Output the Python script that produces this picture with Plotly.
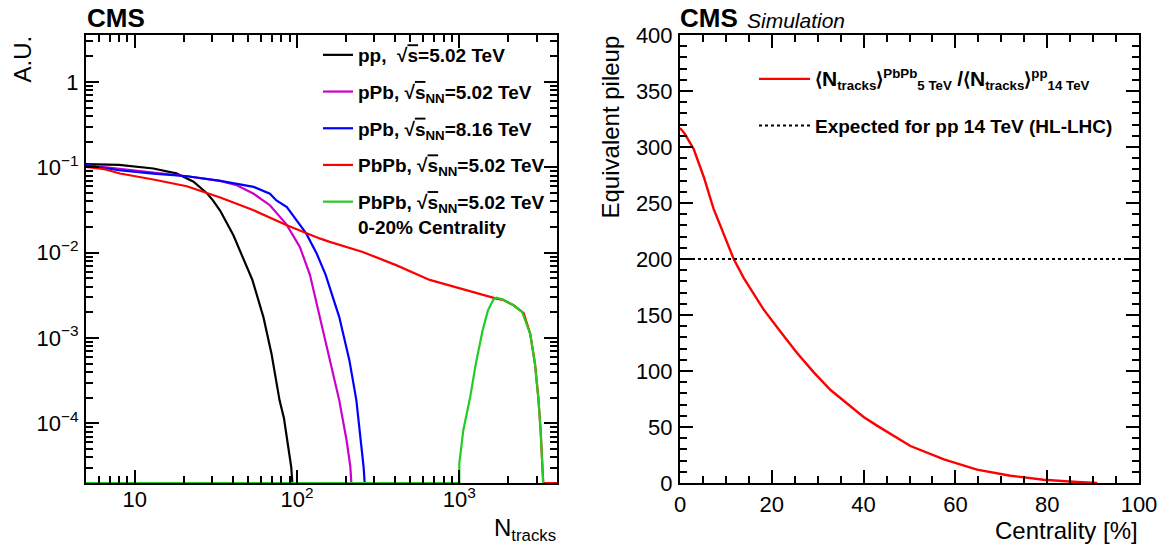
import plotly.graph_objects as go

# ---------------- data ----------------
Y_FLOOR = 2e-5  # axis floor; empty histogram bins are drawn on it

PP502_X = [5, 8, 13, 18, 23, 28, 30.3, 33.6, 40.5, 47, 51, 53, 62, 69.5, 78, 83, 87, 92, 93.5]
PP502_Y = [0.109, 0.107, 0.097, 0.085, 0.068, 0.049, 0.041, 0.031, 0.016, 0.0081, 0.0057, 0.0048,
           0.00176, 6.6e-4, 1.86e-4, 1.15e-4, 6.3e-5, 3.1e-5, 2e-5]

PPB502_X = [5, 8, 13, 21, 33.6, 42.5, 54, 61.6, 68, 86, 104, 120, 138, 158, 182, 202, 213, 216]
PPB502_Y = [0.106, 0.097, 0.087, 0.0787, 0.0694, 0.0617, 0.049, 0.041, 0.036, 0.0215, 0.0117,
            0.0055, 0.00176, 6.0e-4, 1.86e-4, 6.3e-5, 3.1e-5, 2e-5]

PPB816_X = [5, 8, 13, 21, 33.6, 54, 68, 74.6, 86.5, 109, 114, 132, 150, 182, 210, 232, 248, 257, 261]
PPB816_Y = [0.106, 0.0925, 0.0846, 0.0787, 0.0694, 0.059, 0.049, 0.041, 0.0343, 0.0183, 0.0167,
            0.0098, 0.0055, 0.00176, 5.5e-4, 1.86e-4, 6.3e-5, 3.1e-5, 2e-5]

PBPB_X = [5, 6.5, 8.1, 10.3, 13, 20.9, 33.6, 54, 86.5, 139, 159, 254, 411, 657, 1058, 1392, 1622,
          1694, 1860, 2160, 2493, 2735, 2926, 3068, 3170, 3260, 3290, 4000]
PBPB_Y = [0.101, 0.095, 0.0846, 0.0787, 0.072, 0.060, 0.0443, 0.0314, 0.021, 0.0146, 0.0134, 0.0102,
          0.0071, 0.0048, 0.0037, 0.0032, 0.00298, 0.0029, 0.0028, 0.00242, 0.00196, 0.00112,
          5.0e-4, 2.0e-4, 8.3e-5, 3.4e-5, Y_FLOOR, Y_FLOOR]

PBPB020_X = [5, 1000, 1000, 1058, 1165, 1264, 1392, 1502, 1622, 1694, 1860, 2160, 2437, 2735, 2926,
             3068, 3170, 3260, 3290]
PBPB020_Y = [Y_FLOOR, Y_FLOOR, 3.4e-5, 8.3e-5, 2.0e-4, 5.0e-4, 1.23e-3, 2.11e-3, 2.82e-3, 2.97e-3,
             2.82e-3, 2.42e-3, 2.02e-3, 1.12e-3, 5.0e-4, 2.0e-4, 8.3e-5, 3.4e-5, Y_FLOOR]

CENTRALITY = [0, 1, 3, 5.2, 7.3, 9.5, 11.7, 13.9, 18.2, 21.9, 25.5, 29.1, 32.8, 36.4, 40, 43,
              50.2, 57.5, 60, 64.7, 72, 79.2, 86.5, 90.9]
PILEUP = [317, 312, 298, 273, 245, 223, 200, 183, 155, 135, 116, 99, 83, 71, 59, 51,
          33, 21, 18, 12, 6.5, 2.9, 0.9, 0]

HLLHC_X = [0, 100]
HLLHC_PU = [200, 200]

LX_TICKS = [10, 100, 1000]
LX_TEXT = ["10", "10<sup>2</sup>", "10<sup>3</sup>"]
LY_TICKS = [1e-4, 1e-3, 1e-2, 1e-1, 1]
LY_TEXT = ["10<sup>\u22124</sup>", "10<sup>\u22123</sup>", "10<sup>\u22122</sup>", "10<sup>\u22121</sup>", "1"]
LX_MINOR = [6, 7, 8, 9, 20, 30, 40, 50, 60, 70, 80, 90, 200, 300, 400, 500, 600, 700, 800, 900, 2000, 3000]
LY_MINOR = [m * 10.0 ** e for e in range(-5, 1) for m in range(2, 10)]

OV = '<span style="text-decoration:overline">s</span>'
SQ = '\u221a' + OV + '<sub>NN</sub>'
NAMES = [
    'pp,  \u221a' + OV + '=5.02 TeV',
    'pPb, ' + SQ + '=5.02 TeV',
    'pPb, ' + SQ + '=8.16 TeV',
    'PbPb, ' + SQ + '=5.02 TeV',
    'PbPb, ' + SQ + '=5.02 TeV<br>0-20% Centrality',
]
RNAMES = [
    '\u27e8<span style="font-size:21px">N</span><sub>tracks</sub>\u27e9<sup>PbPb</sup><sub>5 TeV</sub> '
    '<span style="font-size:21px">/</span>\u27e8<span style="font-size:21px">N</span><sub>tracks</sub>\u27e9'
    '<sup>pp</sup><sub>14 TeV</sub>',
    'Expected for pp 14 TeV (HL-LHC)',
]

# ---------------- figure ----------------
W, H = 1164, 546
FONT = "Liberation Sans, Arial, Helvetica, sans-serif"

def fx(p):
    return p / W

def fy(p):
    return 1 - p / H

fig = go.Figure()
series = [
    (PP502_X, PP502_Y, "#000000"),
    (PPB502_X, PPB502_Y, "#cc00cc"),
    (PPB816_X, PPB816_Y, "#0000ff"),
    (PBPB_X, PBPB_Y, "#ff0000"),
    (PBPB020_X, PBPB020_Y, "#22cc22"),
]
for i, (xs, ys, c) in enumerate(series):
    fig.add_trace(go.Scatter(x=xs, y=ys, mode="lines", name=NAMES[i], line=dict(color=c, width=2.2),
                             xaxis="x", yaxis="y", legend="legend", legendgroup=f"g{i}"))

fig.add_trace(go.Scatter(x=CENTRALITY, y=PILEUP, mode="lines", name=RNAMES[0],
                         line=dict(color="#ff0000", width=2.4), xaxis="x2", yaxis="y2",
                         legend="legend2", legendgroup="r0"))
fig.add_trace(go.Scatter(x=HLLHC_X, y=HLLHC_PU, mode="lines", name=RNAMES[1],
                         line=dict(color="#000000", width=2, dash="3px,3px"), xaxis="x2", yaxis="y2",
                         legend="legend2", legendgroup="r1"))

tickfont = dict(family=FONT, size=22, color="black")
common = dict(showline=True, linecolor="black", linewidth=2, mirror="ticks", ticks="inside",
              ticklen=13, tickwidth=1.5, tickcolor="black", showgrid=False, zeroline=False,
              tickfont=tickfont, automargin=False)

fig.update_layout(
    template="none",
    width=W, height=H, margin=dict(l=0, r=0, t=0, b=0, autoexpand=False),
    paper_bgcolor="white", plot_bgcolor="white",
    font=dict(family=FONT, color="black"),
    xaxis=dict(domain=[fx(86), fx(557)], type="log", range=[0.69897, 3.60206], anchor="y",
               tickmode="array", tickvals=LX_TICKS, ticktext=LX_TEXT, ticklabelstandoff=-4,
               minor=dict(tickmode="array", tickvals=LX_MINOR, ticks="inside", ticklen=7,
                          tickwidth=1.5, tickcolor="black", showgrid=False), **common),
    yaxis=dict(domain=[fy(483), fy(35)], type="log", range=[-4.69897, 0.551], anchor="x",
               tickmode="array", tickvals=LY_TICKS, ticktext=LY_TEXT, ticklabelstandoff=1,
               minor=dict(tickmode="array", tickvals=LY_MINOR, ticks="inside", ticklen=7,
                          tickwidth=1.5, tickcolor="black", showgrid=False), **common),
    xaxis2=dict(domain=[fx(680), fx(1139)], range=[0, 100], anchor="y2", tickmode="linear",
                tick0=0, dtick=20, ticklabelstandoff=1,
                minor=dict(dtick=5, ticks="inside", ticklen=7, tickwidth=1.5, tickcolor="black",
                           showgrid=False),
                **common),
    yaxis2=dict(domain=[fy(483), fy(35)], range=[0, 400], anchor="x2", tickmode="linear",
                tick0=0, dtick=50, ticklabelstandoff=1,
                minor=dict(dtick=10, ticks="inside", ticklen=7, tickwidth=1.5, tickcolor="black",
                           showgrid=False),
                **common),
    legend=dict(x=fx(318), y=fy(36), xanchor="left", yanchor="top", bgcolor="rgba(0,0,0,0)",
                font=dict(family=FONT, size=19, color="black", weight="bold"),
                traceorder="grouped", tracegroupgap=9, itemwidth=30, valign="top"),
    legend2=dict(x=fx(754), y=fy(60), xanchor="left", yanchor="top", bgcolor="rgba(0,0,0,0)",
                 font=dict(family=FONT, size=19, color="black", weight="bold"),
                 traceorder="grouped", tracegroupgap=19, itemwidth=51),
    showlegend=True,
)

ann = [
    dict(text="<b>CMS</b>", x=fx(85), y=fy(35), xanchor="left", yanchor="bottom",
         font=dict(family=FONT, size=26, color="black")),
    dict(text="<b>CMS</b>", x=fx(678), y=fy(35), xanchor="left", yanchor="bottom",
         font=dict(family=FONT, size=26, color="black")),
    dict(text="<i>Simulation</i>", x=fx(745), y=fy(34), xanchor="left", yanchor="bottom",
         font=dict(family=FONT, size=21, color="black")),
    dict(text="A.U.", x=fx(22), y=fy(34), xanchor="center", yanchor="top", textangle=-90,
         font=dict(family=FONT, size=24, color="black")),
    dict(text="Equivalent pileup", x=fx(610), y=fy(34), xanchor="center", yanchor="top", textangle=-90,
         font=dict(family=FONT, size=24, color="black")),
    dict(text="N<sub>tracks</sub>", x=fx(558), y=fy(512), xanchor="right", yanchor="top",
         font=dict(family=FONT, size=24, color="black")),
    dict(text="Centrality [%]", x=fx(1140), y=fy(515), xanchor="right", yanchor="top",
         font=dict(family=FONT, size=24, color="black")),
]
for a in ann:
    a.update(xref="paper", yref="paper", showarrow=False)
fig.update_layout(annotations=ann)

fig.write_html("out.html", config={"displayModeBar": False},
               post_script="document.body.style.margin='0';")
